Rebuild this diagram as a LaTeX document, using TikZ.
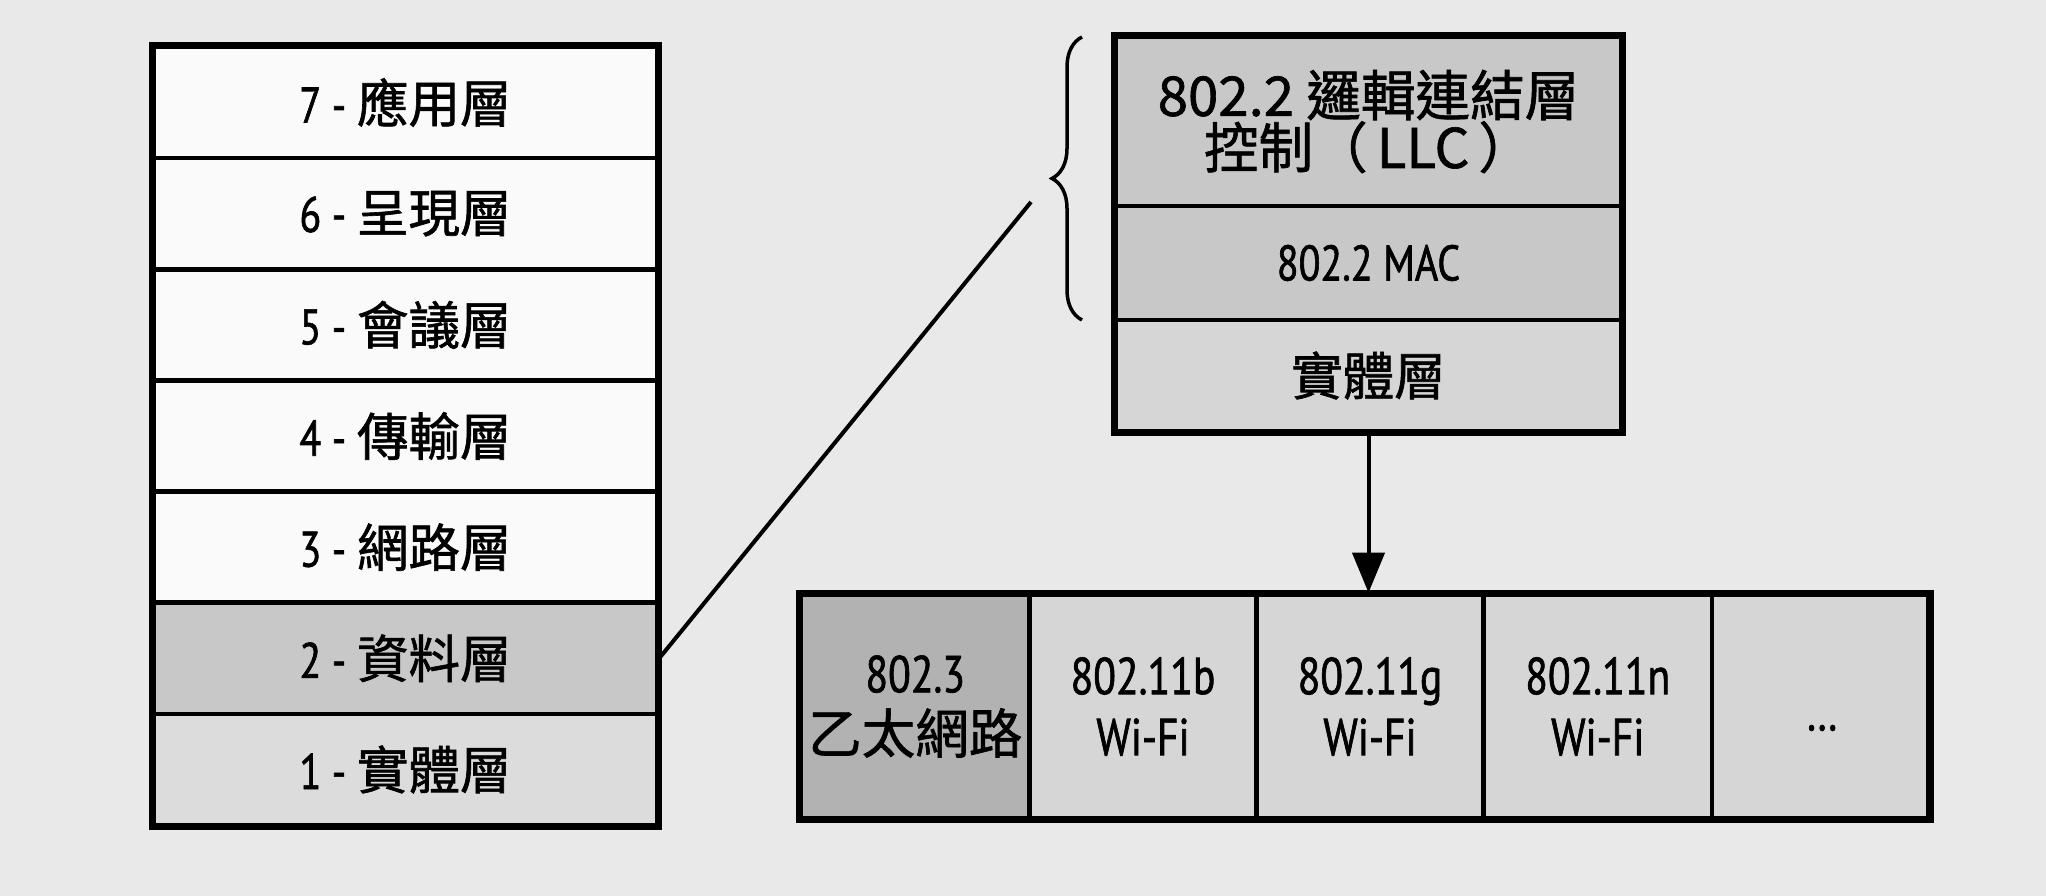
\documentclass[tikz,border=0pt]{standalone}
\usepackage{fontspec}
\setmainfont{PT Sans}[FakeStretch=0.8, FakeBold=1.2]
\newfontfamily\cjk{Noto Sans CJK TC}[Scale=1.03, FakeBold=1.2]
\usetikzlibrary{arrows.meta,decorations.pathreplacing}
\definecolor{paper}{RGB}{233,233,233}
\definecolor{boxwhite}{RGB}{250,250,250}
\definecolor{datagray}{RGB}{200,200,200}
\definecolor{phylight}{RGB}{220,220,220}
\definecolor{llcgray}{RGB}{200,200,200}
\definecolor{phyright}{RGB}{214,214,214}
\definecolor{ethgray}{RGB}{178,178,178}
\definecolor{wifigray}{RGB}{214,214,214}
\begin{document}
\begin{tikzpicture}[x=1pt,y=1pt,
  layerbox/.style={draw=black, line width=4.5pt, inner sep=0pt, align=center,
    font=\fontsize{50}{52}\selectfont},
  lrow/.style={layerbox, minimum width=503pt, minimum height=111.14pt},
  rrow/.style={layerbox, minimum width=505pt},
  cell/.style={layerbox, minimum height=223pt, font=\fontsize{52}{61}\selectfont},
  frame/.style={draw=black, line width=5.5pt},
  conn/.style={draw=black, line width=4pt}]
\fill[paper] (0,0) rectangle (2046,896);
\useasboundingbox (0,0) rectangle (2046,896);
% left OSI stack
\node[lrow, fill=boxwhite] (L7) at (405.5,793.43) {7 - {\cjk 應用層}};
\node[lrow, fill=boxwhite] (L6) at (405.5,682.29) {6 - {\cjk 呈現層}};
\node[lrow, fill=boxwhite] (L5) at (405.5,571.14) {5 - {\cjk 會議層}};
\node[lrow, fill=boxwhite] (L4) at (405.5,460.00) {4 - {\cjk 傳輸層}};
\node[lrow, fill=boxwhite] (L3) at (405.5,348.86) {3 - {\cjk 網路層}};
\node[lrow, fill=datagray] (L2) at (405.5,237.71) {2 - {\cjk 資料層}};
\node[lrow, fill=phylight] (L1) at (405.5,126.57) {1 - {\cjk 實體層}};
\draw[frame] (L7.north west) rectangle (L1.south east);
% right 802 stack
\node[rrow, fill=llcgray, minimum height=169pt, font={\cjk\fontsize{53}{51}\selectfont}] (LLC) at (1368.5,774.5)
  {802.2 邏輯連結層\\控制（\,LLC\,）};
\node[rrow, fill=llcgray, minimum height=114pt] (MAC) at (1368.5,633) {802.2 MAC};
\node[rrow, fill=phyright, minimum height=111pt] (PHY) at (1368.5,520.5) {\cjk 實體層};
\draw[frame] (LLC.north west) rectangle (PHY.south east);
% brace
\draw[conn, line width=3.5pt, decorate, decoration={brace, amplitude=30pt}] (1082,576) -- (1082,859);
% connector from data link layer
\coordinate (bracept) at (1031,694);
\draw[conn] (L2.east) -- (bracept);
% bottom row
\node[cell, fill=ethgray, minimum width=228.5pt] (B1) at (915.25,189.5) {802.3\\{\cjk 乙太網路}};
\node[cell, fill=wifigray, minimum width=227pt] (B2) at (1143,189.5) {802.11b\\Wi-Fi};
\node[cell, fill=wifigray, minimum width=227pt] (B3) at (1370,189.5) {802.11g\\Wi-Fi};
\node[cell, fill=wifigray, minimum width=228.5pt] (B4) at (1597.75,189.5) {802.11n\\Wi-Fi};
\node[cell, fill=wifigray, minimum width=216.5pt] (B5) at (1820.25,189.5) {};
\node[font=\fontsize{52}{52}\selectfont, inner sep=0pt] (dots) at (1822,168) {…};
\draw[frame] (B1.north west) rectangle (B5.south east);
% arrow
\draw[conn, -{Triangle[width=32pt,length=40pt]}] (PHY.south) -- (PHY.south |- B3.north);
\end{tikzpicture}
\end{document}
